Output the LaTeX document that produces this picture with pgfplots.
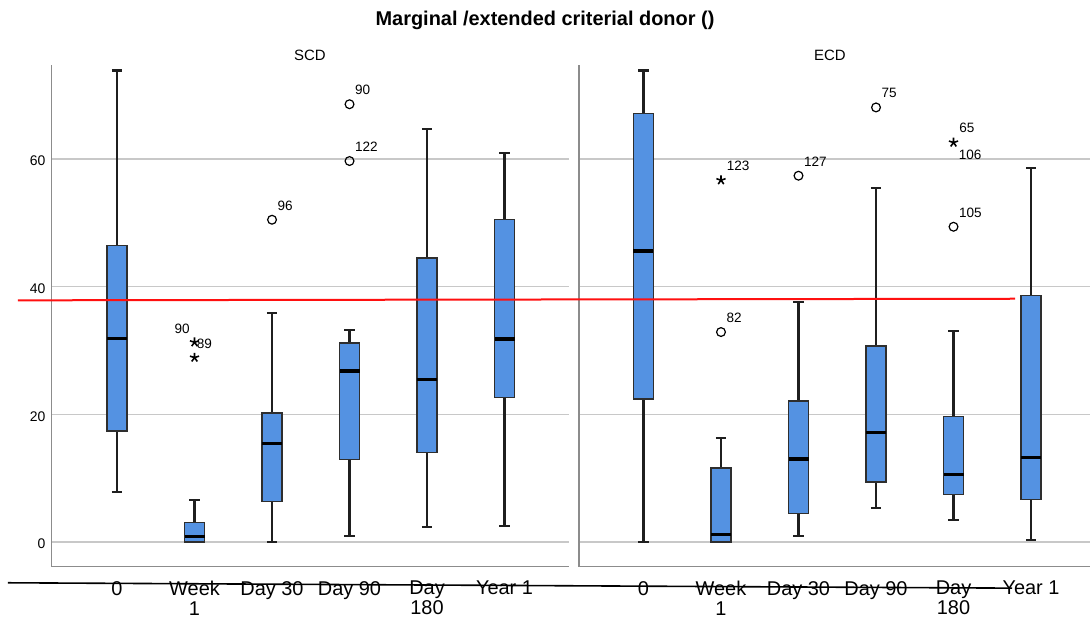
\documentclass[border=0pt]{standalone}
\usepackage{fontspec}
\setmainfont{Liberation Sans}
\usepackage{pgfplots}
\pgfplotsset{compat=1.18}
\usepgfplotslibrary{statistics}
\definecolor{boxblue}{HTML}{5492E2}
\definecolor{boxedge}{HTML}{2E2E2E}
\definecolor{gridgray}{HTML}{C8C8C8}
\definecolor{axgray}{HTML}{8C8C8C}
\definecolor{linered}{HTML}{FF1010}

\pgfplotsset{
 boxplot/every box/.style={fill=boxblue, draw=boxedge, line width=0.6bp},
 boxplot/every whisker/.style={draw=black!88, line width=1.1bp},
 boxplot/every median/.style={draw=black, line width=1.6bp},
 panel/.style={
   scale only axis, height=250.85bp, ymin=-3.87, ymax=74.75,
   anchor=south west,
   axis x line*=bottom, axis y line*=left,
   axis line style={axgray, line width=0.75bp},
   ytick={0,20,40,60}, ymajorgrids, grid style={gridgray, line width=0.75bp},
   major tick length=0pt,
   xtick={0,1,2,3,4,5},
   xticklabels={0,{Week\\1},Day 30,Day 90,{Day\\180},Year 1},
   xticklabel style={font=\fontsize{10}{9.8}\selectfont, align=center, inner sep=0pt, anchor=north, yshift=-7bp},
   yticklabel style={font=\fontsize{7}{8}\selectfont, inner sep=0pt, anchor=east, xshift=-3bp, yshift=-1bp},
   /pgf/number format/assume math mode=true,
   clip=false,
   boxplot/draw direction=y,
   boxplot/box extend=0.258, boxplot/whisker extend=0.13,
 },
 circ/.style={only marks, mark=o, mark size=2.2bp, mark options={black, line width=0.6bp}, black},
 starm/.style={only marks, mark=star, mark size=2.4bp, mark options={black, line width=0.8bp}, black},
 olab/.style={nodes near coords, point meta=explicit symbolic,
   every node near coord/.append style={font=\fontsize{6.8}{8}\selectfont, inner sep=0pt, anchor=south west, xshift=2.5bp, yshift=4.5bp}},
 nolab/.style={only marks, mark=none, nodes near coords, point meta=explicit symbolic,
   every node near coord/.append style={font=\fontsize{6.8}{8}\selectfont, inner sep=0pt}},
}

\begin{document}
\begin{tikzpicture}
\useasboundingbox (0,0) rectangle (545bp,308.5bp);
\node[font=\bfseries\fontsize{10}{12}\selectfont, anchor=base] at (272.5bp,295.5bp) {Marginal /extended criterial donor ()};
\node[font=\fontsize{7.5}{9}\selectfont, anchor=base] at (155bp,278.2bp) {SCD};
\node[font=\fontsize{7.5}{9}\selectfont, anchor=base] at (415bp,278.2bp) {ECD};

% ---------------- SCD ----------------
\begin{axis}[panel, width=258.65bp, xmin=-0.843, xmax=5.832, at={(25.85bp,25.15bp)}]
\addplot[boxplot prepared={draw position=0, lower whisker=7.8, lower quartile=17.4, median=31.9, upper quartile=46.5, upper whisker=73.9}] coordinates {};
\addplot[boxplot prepared={draw position=1, lower whisker=0, lower quartile=0, median=0.9, upper quartile=3.1, upper whisker=6.6}] coordinates {};
\addplot[boxplot prepared={draw position=2, lower whisker=0, lower quartile=6.3, median=15.4, upper quartile=20.2, upper whisker=35.9}] coordinates {};
\addplot[boxplot prepared={draw position=3, lower whisker=0.9, lower quartile=12.9, median=26.8, upper quartile=31.2, upper whisker=33.2}] coordinates {};
\addplot[boxplot prepared={draw position=4, lower whisker=2.3, lower quartile=14.0, median=25.5, upper quartile=44.5, upper whisker=64.7}] coordinates {};
\addplot[boxplot prepared={draw position=5, lower whisker=2.5, lower quartile=22.7, median=31.8, upper quartile=50.5, upper whisker=60.9}] coordinates {};
% outliers
\addplot[circ, olab] table[meta=lab, row sep=\\] {x y lab\\ 2 50.5 96\\ 3 68.6 90\\ 3 59.7 122\\};
\addplot[starm] table[row sep=\\] {x y\\ 1 31.3\\ 1 28.9\\};
\addplot[nolab, every node near coord/.append style={anchor=west, xshift=1bp, yshift=-1bp}] table[meta=lab, row sep=\\] {x y lab\\ 1 31.3 89\\};
\addplot[nolab, every node near coord/.append style={anchor=south east, xshift=-2.2bp, yshift=4bp}] table[meta=lab, row sep=\\] {x y lab\\ 1 31.3 90\\};
\end{axis}

% ---------------- ECD ----------------
\begin{axis}[panel, width=255.5bp, xmin=-0.832, xmax=5.761, at={(289.5bp,25.15bp)}, yticklabels={}]
\addplot[boxplot prepared={draw position=0, lower whisker=0, lower quartile=22.4, median=45.6, upper quartile=67.1, upper whisker=73.9}] coordinates {};
\addplot[boxplot prepared={draw position=1, lower whisker=0, lower quartile=0, median=1.2, upper quartile=11.6, upper whisker=16.3}] coordinates {};
\addplot[boxplot prepared={draw position=2, lower whisker=0.9, lower quartile=4.5, median=13.0, upper quartile=22.1, upper whisker=37.6}] coordinates {};
\addplot[boxplot prepared={draw position=3, lower whisker=5.3, lower quartile=9.4, median=17.1, upper quartile=30.7, upper whisker=55.5}] coordinates {};
\addplot[boxplot prepared={draw position=4, lower whisker=3.5, lower quartile=7.5, median=10.6, upper quartile=19.7, upper whisker=33.1}] coordinates {};
\addplot[boxplot prepared={draw position=5, lower whisker=0.3, lower quartile=6.7, median=13.2, upper quartile=38.6, upper whisker=58.6}] coordinates {};
% outliers
\addplot[circ, olab] table[meta=lab, row sep=\\] {x y lab\\ 1 32.9 82\\ 2 57.4 127\\ 3 68.1 75\\ 4 49.4 105\\};
\addplot[starm, olab] table[meta=lab, row sep=\\] {x y lab\\ 1 56.7 123\\ 4 62.6 65\\};
\addplot[nolab, every node near coord/.append style={anchor=north west, xshift=2.5bp, yshift=-3.5bp}] table[meta=lab, row sep=\\] {x y lab\\ 4 62.6 106\\};
% reference line and stray line across both panels
\addplot[linered, line width=1bp] coordinates {(-8.071,37.87) (4.794,38.12)};
\addplot[black, line width=0.8bp] coordinates {(-8.2,-6.39) (4.755,-7.23)};
\end{axis}
\end{tikzpicture}
\end{document}
